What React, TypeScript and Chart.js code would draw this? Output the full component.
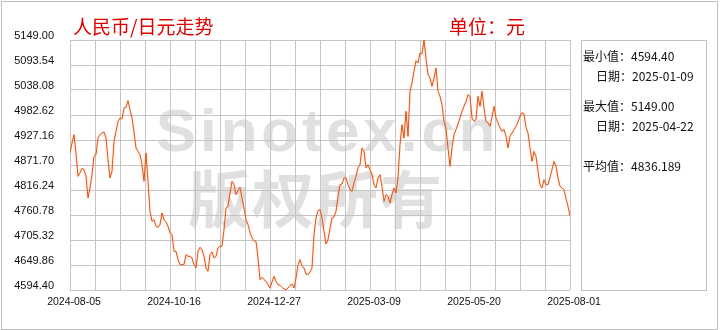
import React, { useEffect, useRef } from 'react';
import Chart from 'chart.js/auto';

// ---- data ----
const xTickLabels: string[] = ['2024-08-05', '2024-10-16', '2024-12-27', '2025-03-09', '2025-05-20', '2025-08-01'];
const yTickValues: number[] = [4594.40, 4649.86, 4705.32, 4760.78, 4816.24, 4871.70, 4927.16, 4982.62, 5038.08, 5093.54, 5149.00];

const rate2024Q3: number[] = [
  4898.3, 4920.5, 4939.0, 4898.3, 4846.6, 4854.0, 4864.3, 4861.4, 4846.6, 4798.5,
  4820.7, 4850.3, 4890.9, 4894.6, 4931.6, 4939.0, 4942.7, 4944.9, 4931.6, 4883.5,
  4842.9, 4857.7, 4924.2, 4946.4, 4968.6, 4976.0, 4973.8, 4998.2, 4999.6, 5014.4,
  4994.5, 4976.0, 4944.9, 4909.4, 4902.0, 4894.6, 4872.4, 4835.5, 4898.3, 4835.5,
  4768.9, 4746.7, 4750.4, 4735.6, 4733.4, 4739.3, 4765.2, 4750.4, 4745.3, 4735.6,
  4720.9,
];
const rate2024Q4: number[] = [
  4717.2, 4680.2, 4680.2, 4661.7, 4650.6, 4650.6, 4650.6, 4672.8, 4669.1, 4669.1,
  4665.4, 4650.6, 4643.2, 4680.2, 4689.1, 4683.9, 4669.1, 4643.2, 4635.8, 4672.8,
  4678.7, 4665.4, 4669.1, 4687.6, 4691.3, 4691.3, 4728.2, 4776.3, 4780.0, 4809.6,
  4835.5, 4828.1, 4805.9, 4814.8, 4822.2, 4798.5, 4776.3, 4750.4, 4739.3, 4722.3,
  4709.8, 4703.8, 4702.4, 4665.4, 4617.3, 4622.5, 4617.3, 4613.6, 4606.2, 4598.8,
];
const rate2025Q1: number[] = [
  4612.2, 4624.7, 4613.6, 4606.2, 4604.8, 4600.3, 4596.6, 4594.4, 4598.8, 4604.8,
  4607.7, 4598.8, 4621.0, 4650.6, 4661.7, 4646.9, 4643.2, 4629.9, 4628.4, 4634.3,
  4643.2, 4717.2, 4754.1, 4770.4, 4772.6, 4754.1, 4724.6, 4696.4, 4706.1, 4730.5,
  4754.1, 4756.3, 4768.9, 4802.2, 4828.1, 4829.6, 4842.9, 4842.9, 4828.1, 4817.0,
  4813.3, 4831.8, 4846.6, 4865.1, 4872.4, 4909.4, 4902.0, 4865.1, 4872.4, 4861.4,
];
const rate2025Q2: number[] = [
  4850.3, 4828.1, 4820.7, 4842.9, 4850.3, 4824.4, 4791.1, 4805.9, 4802.2, 4787.4,
  4805.9, 4820.7, 4809.6, 4842.9, 4916.8, 4961.2, 4931.6, 4990.8, 4935.3, 5035.1,
  5053.6, 5079.5, 5103.2, 5098.0, 5120.2, 5118.0, 5149.0, 5109.1, 5072.1, 5064.7,
  5046.2, 5064.7, 5086.9, 5035.1, 5024.0, 5005.6, 4968.6, 4952.3, 4909.4, 4868.7,
  4909.4, 4939.0, 4950.1, 4962.7, 4976.0, 4990.8, 5001.9, 5012.9, 5027.7, 5024.0,
];
const rate2025Q3: number[] = [
  4976.0, 4968.6, 4972.3, 5024.0, 5001.9, 5035.1, 4998.2, 4968.6, 4964.9, 4957.5,
  4977.4, 5001.9, 4976.0, 4964.9, 4953.8, 4946.4, 4950.1, 4935.3, 4909.4, 4935.3,
  4942.7, 4950.1, 4957.5, 4967.1, 4979.7, 4987.8, 4984.8, 4955.3, 4942.7, 4909.4,
  4879.8, 4902.0, 4890.9, 4857.7, 4828.1, 4820.7, 4839.2, 4828.1, 4828.1, 4844.3,
  4861.4, 4879.8, 4868.7, 4842.9, 4824.4, 4820.7, 4817.0, 4797.0, 4780.0, 4757.8,
];

const titleText = '人民币/日元走势';
const unitText = '单位：元';
const statLabels: string[] = ['最小值：', '日期：', '最大值：', '日期：', '平均值：'];
const statValues: string[] = ['4594.40', '2025-01-09', '5149.00', '2025-04-22', '4836.189'];

const cnyJpy: number[] = [...rate2024Q3, ...rate2024Q4, ...rate2025Q1, ...rate2025Q2, ...rate2025Q3];

const statLayout = [
  { top: 50, left: 583 },
  { top: 70, left: 596 },
  { top: 100, left: 583 },
  { top: 120, left: 596 },
  { top: 160, left: 583 },
];

export default function App() {
  const ref = useRef<HTMLCanvasElement>(null);

  useEffect(() => {
    const canvas = ref.current;
    if (!canvas) return;
    const n = cnyJpy.length - 1;
    const glow = {
      id: 'glow',
      beforeDatasetsDraw(chart: any) {
        const ctx = chart.ctx;
        ctx.save();
        ctx.shadowColor = 'rgba(255,170,110,0.7)';
        ctx.shadowBlur = 2;
      },
      afterDatasetsDraw(chart: any) {
        chart.ctx.restore();
      },
    };
    const chart = new Chart(canvas, {
      type: 'line',
      data: {
        datasets: [
          {
            data: cnyJpy.map((v, i) => ({ x: i, y: v })),
            borderColor: '#e2541e',
            borderWidth: 1,
            pointRadius: 0,
            tension: 0,
            fill: false,
          },
        ],
      },
      options: {
        animation: false,
        responsive: false,
        devicePixelRatio: 1,
        events: [],
        layout: { padding: { left: 0, right: 150, top: 40, bottom: 0 } },
        plugins: { legend: { display: false }, tooltip: { enabled: false } },
        scales: {
          x: {
            type: 'linear',
            min: 0,
            max: n,
            afterBuildTicks: (s: any) => {
              s.ticks = Array.from({ length: 21 }, (_, i) => ({ value: (i * n) / 20 }));
            },
            afterFit: (s: any) => {
              s.height = 40;
            },
            grid: { color: '#c4c4c4', lineWidth: 1, drawTicks: false },
            border: { display: false },
            ticks: {
              autoSkip: false,
              maxRotation: 0,
              minRotation: 0,
              padding: 6,
              labelOffset: 4,
              color: '#111',
              font: { family: 'Liberation Sans', size: 10.5 },
              callback: (_v: any, i: number) => (i % 4 === 0 ? xTickLabels[i / 4] : ''),
            },
          },
          y: {
            type: 'linear',
            min: yTickValues[0],
            max: yTickValues[yTickValues.length - 1],
            afterBuildTicks: (s: any) => {
              s.ticks = yTickValues.map((v) => ({ value: v }));
            },
            afterFit: (s: any) => {
              s.width = 70;
            },
            grid: { color: '#c4c4c4', lineWidth: 1, drawTicks: false },
            border: { display: false },
            ticks: {
              padding: 16,
              labelOffset: -4,
              color: '#111',
              font: { family: 'Liberation Sans', size: 11 },
              callback: (v: any) => Number(v).toFixed(2),
            },
          },
        },
      },
      plugins: [glow],
    } as any);
    return () => chart.destroy();
  }, []);

  return (
    <div
      style={{
        position: 'fixed',
        left: 0,
        top: 0,
        width: 720,
        height: 330,
        background: '#fff',
        overflow: 'hidden',
      }}
    >
      {/* watermark */}
      <div
        style={{
          position: 'absolute',
          left: 156,
          top: 101,
          font: 'bold 60px "Liberation Sans", Arial, sans-serif',
          lineHeight: '60px',
          letterSpacing: '4px',
          color: '#e0e0e0',
          whiteSpace: 'nowrap',
        }}
      >
        Sinotex.cn
      </div>
      <div
        style={{
          position: 'absolute',
          left: 188,
          top: 165,
          font: 'bold 62px "Noto Sans CJK SC", sans-serif',
          lineHeight: '62px',
          letterSpacing: '2px',
          color: '#e0e0e0',
          whiteSpace: 'nowrap',
        }}
      >
        版权所有
      </div>
      <canvas
        ref={ref}
        width={720}
        height={330}
        style={{ position: 'absolute', left: 0, top: 0, width: 720, height: 330 }}
      />
      {/* outer frame */}
      <div
        style={{
          position: 'absolute',
          left: 1,
          top: 1,
          width: 717,
          height: 329,
          border: '1px solid #c0c0c0',
          boxSizing: 'border-box',
        }}
      />
      {/* titles */}
      <div
        style={{
          position: 'absolute',
          left: 73,
          top: 16,
          font: '19px "Noto Sans CJK SC", sans-serif',
          lineHeight: '19px',
          color: '#e00000',
          whiteSpace: 'nowrap',
        }}
      >
        {titleText}
      </div>
      <div
        style={{
          position: 'absolute',
          left: 449,
          top: 16,
          font: '19px "Noto Sans CJK SC", sans-serif',
          lineHeight: '19px',
          color: '#e00000',
          whiteSpace: 'nowrap',
        }}
      >
        {unitText}
      </div>
      {/* stats panel */}
      <div
        style={{
          position: 'absolute',
          left: 581,
          top: 40,
          width: 126,
          height: 251,
          border: '1px solid #c0c0c0',
          boxSizing: 'border-box',
        }}
      />
      {statLabels.map((lab, i) => (
        <div
          key={i}
          style={{
            position: 'absolute',
            left: statLayout[i].left,
            top: statLayout[i].top,
            font: '12px "Noto Sans CJK SC", sans-serif',
            lineHeight: '12px',
            color: '#111',
            whiteSpace: 'nowrap',
          }}
        >
          {lab}
          {statValues[i]}
        </div>
      ))}
    </div>
  );
}
